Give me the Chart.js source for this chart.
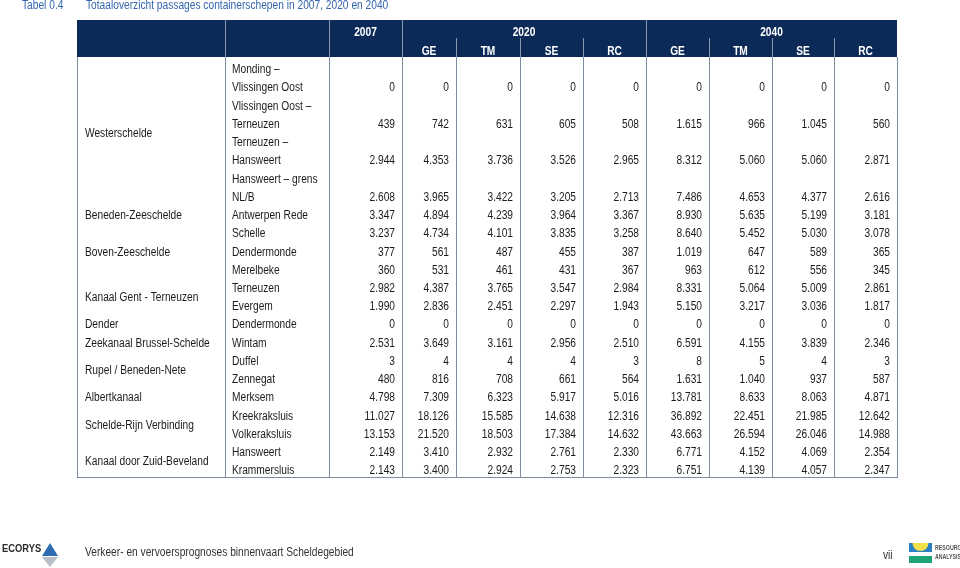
<!DOCTYPE html>
<html>
<head>
<meta charset="utf-8">
<script src="https://cdn.jsdelivr.net/npm/chart.js@4.4.1/dist/chart.umd.min.js"></script>
<style>
    html, body { margin: 0; padding: 0; background: #fff; }
    #wrap { width: 960px; height: 568px; position: relative; }
</style>
</head>
<body>
<div id="wrap"><canvas id="canvas" width="960" height="568"></canvas></div>
<script>
'use strict';

// header texts
var tableNo = 'Tabel 0.4';
var tableTitle = 'Totaaloverzicht passages containerschepen in 2007, 2020 en 2040';
var years = ['2007', '2020', '2040'];
var yearFirstCol = [0, 1, 5];
var yearLastCol = [0, 4, 8];
var columns = ['', 'GE', 'TM', 'SE', 'RC', 'GE', 'TM', 'SE', 'RC'];

// text lines of the location column (one entry per printed line)
var textLines = ['Monding –', 'Vlissingen Oost', 'Vlissingen Oost –', 'Terneuzen', 'Terneuzen –',
    'Hansweert', 'Hansweert – grens', 'NL/B', 'Antwerpen Rede', 'Schelle', 'Dendermonde',
    'Merelbeke', 'Terneuzen', 'Evergem', 'Dendermonde', 'Wintam', 'Duffel', 'Zennegat',
    'Merksem', 'Kreekraksluis', 'Volkeraksluis', 'Hansweert', 'Krammersluis'];
// line on which each value row is printed
var valueLines = [1, 3, 5, 7, 8, 9, 10, 11, 12, 13, 14, 15, 16, 17, 18, 19, 20, 21, 22];

var waterways = ['Westerschelde', 'Beneden-Zeeschelde', 'Boven-Zeeschelde', 'Kanaal Gent - Terneuzen',
    'Dender', 'Zeekanaal Brussel-Schelde', 'Rupel / Beneden-Nete', 'Albertkanaal',
    'Schelde-Rijn Verbinding', 'Kanaal door Zuid-Beveland'];
var waterwayLines = [3.5, 8, 10, 12.5, 14, 15, 16.5, 18, 19.5, 21.5];

// series values
var v2007   = [0, 439, 2944, 2608, 3347, 3237, 377, 360, 2982, 1990, 0, 2531, 3, 480, 4798, 11027, 13153, 2149, 2143];
var ge2020  = [0, 742, 4353, 3965, 4894, 4734, 561, 531, 4387, 2836, 0, 3649, 4, 816, 7309, 18126, 21520, 3410, 3400];
var tm2020  = [0, 631, 3736, 3422, 4239, 4101, 487, 461, 3765, 2451, 0, 3161, 4, 708, 6323, 15585, 18503, 2932, 2924];
var se2020  = [0, 605, 3526, 3205, 3964, 3835, 455, 431, 3547, 2297, 0, 2956, 4, 661, 5917, 14638, 17384, 2761, 2753];
var rc2020  = [0, 508, 2965, 2713, 3367, 3258, 387, 367, 2984, 1943, 0, 2510, 3, 564, 5016, 12316, 14632, 2330, 2323];
var ge2040  = [0, 1615, 8312, 7486, 8930, 8640, 1019, 963, 8331, 5150, 0, 6591, 8, 1631, 13781, 36892, 43663, 6771, 6751];
var tm2040  = [0, 966, 5060, 4653, 5635, 5452, 647, 612, 5064, 3217, 0, 4155, 5, 1040, 8633, 22451, 26594, 4152, 4139];
var se2040  = [0, 1045, 5060, 4377, 5199, 5030, 589, 556, 5009, 3036, 0, 3839, 4, 937, 8063, 21985, 26046, 4069, 4057];
var rc2040  = [0, 560, 2871, 2616, 3181, 3078, 365, 345, 2861, 1817, 0, 2346, 3, 587, 4871, 12642, 14988, 2354, 2347];
var series = [v2007, ge2020, tm2020, se2020, rc2020, ge2040, tm2040, se2040, rc2040];

var footerText = 'Verkeer- en vervoersprognoses binnenvaart Scheldegebied';
var pageNo = 'vii';

// layout
var EDGES = [0, 148, 252, 325, 379, 443, 506, 569, 632, 695, 757, 820];
var HEAD_TOP = 20;
var NAVY = '#0b2a58';
var LINE = '#7f8da4';
var FONT = '"Liberation Sans", Arial, sans-serif';
var SX = 0.85;
var PAD = 7;

function fmt(v) {
    return String(v).replace(/\B(?=(\d{3})+(?!\d))/g, '.');
}

function txt(ctx, s, x, y, align) {
    ctx.save();
    ctx.translate(x, y);
    ctx.scale(SX, 1);
    ctx.textAlign = align || 'left';
    ctx.textBaseline = 'middle';
    ctx.fillText(s, 0, 0);
    ctx.restore();
}

function vline(ctx, x, y1, y2) {
    x = Math.round(x) + 0.5;
    ctx.beginPath();
    ctx.moveTo(x, y1);
    ctx.lineTo(x, y2);
    ctx.stroke();
}

var datasets = series.map(function (vals, ci) {
    return {
        label: (ci === 0 ? years[0] : (ci < 5 ? years[1] : years[2])) + ' ' + columns[ci],
        data: vals.map(function (v, ri) { return { x: EDGES[3 + ci], y: valueLines[ri], v: v }; }),
        pointRadius: 0,
        pointHoverRadius: 0
    };
});

var tablePlugin = {
    id: 'tablePlugin',
    beforeDraw: function (chart) {
        var ctx = chart.ctx, xs = chart.scales.x, area = chart.chartArea;
        ctx.save();
        ctx.fillStyle = '#fff';
        ctx.fillRect(0, 0, chart.width, chart.height);

        // title
        ctx.fillStyle = '#3466ad';
        ctx.font = '12px ' + FONT;
        txt(ctx, tableNo, 22, 6);
        txt(ctx, tableTitle, 86, 6);

        // header block
        ctx.fillStyle = NAVY;
        ctx.fillRect(area.left, HEAD_TOP, area.right - area.left, area.top - HEAD_TOP);

        ctx.strokeStyle = '#8797b0';
        ctx.lineWidth = 1;
        [1, 2, 3, 7].forEach(function (e) { vline(ctx, xs.getPixelForValue(EDGES[e]), HEAD_TOP, area.top); });
        [4, 5, 6, 8, 9, 10].forEach(function (e) { vline(ctx, xs.getPixelForValue(EDGES[e]), 38, area.top); });

        ctx.fillStyle = '#fff';
        ctx.font = 'bold 12px ' + FONT;
        years.forEach(function (y, i) {
            var l = xs.getPixelForValue(EDGES[2 + yearFirstCol[i]]);
            var r = xs.getPixelForValue(EDGES[3 + yearLastCol[i]]);
            txt(ctx, y, (l + r) / 2, 33, 'center');
        });
        columns.forEach(function (c, ci) {
            if (!c) return;
            var l = xs.getPixelForValue(EDGES[2 + ci]);
            var r = xs.getPixelForValue(EDGES[3 + ci]);
            txt(ctx, c, (l + r) / 2, 52, 'center');
        });

        // footer
        ctx.fillStyle = '#2b2b2b';
        ctx.font = 'bold 11px ' + FONT;
        txt(ctx, 'ECORYS', 2, 549);
        ctx.fillStyle = '#2f6db3';
        ctx.beginPath();
        ctx.moveTo(42, 556); ctx.lineTo(50, 543); ctx.lineTo(58, 556); ctx.closePath(); ctx.fill();
        ctx.fillStyle = '#b9c0c9';
        ctx.beginPath();
        ctx.moveTo(42, 557); ctx.lineTo(58, 557); ctx.lineTo(50, 567); ctx.closePath(); ctx.fill();

        ctx.fillStyle = '#333';
        ctx.font = '12px ' + FONT;
        txt(ctx, footerText, 85, 553);
        txt(ctx, pageNo, 883, 556);

        ctx.fillStyle = '#2a80c4';
        ctx.fillRect(909, 543, 23, 9);
        ctx.fillStyle = '#f3e04a';
        ctx.beginPath();
        ctx.arc(920.5, 543, 8, 0, Math.PI);
        ctx.fill();
        ctx.fillStyle = '#1ea27a';
        ctx.fillRect(909, 556, 23, 7);
        ctx.fillStyle = '#555';
        ctx.font = 'bold 7px ' + FONT;
        ctx.save();
        ctx.translate(935, 0);
        ctx.scale(0.75, 1);
        ctx.textBaseline = 'middle';
        ctx.fillText('RESOURCE', 0, 548);
        ctx.fillText('ANALYSIS', 0, 557);
        ctx.restore();
        ctx.restore();
    },
    afterDatasetsDraw: function (chart) {
        var ctx = chart.ctx, xs = chart.scales.x, ys = chart.scales.y, area = chart.chartArea;
        ctx.save();

        // grid
        ctx.strokeStyle = LINE;
        ctx.lineWidth = 1;
        EDGES.forEach(function (e) { vline(ctx, xs.getPixelForValue(e), area.top, area.bottom); });
        ctx.beginPath();
        ctx.moveTo(area.left, Math.round(area.bottom) + 0.5);
        ctx.lineTo(area.right + 1, Math.round(area.bottom) + 0.5);
        ctx.stroke();

        ctx.fillStyle = '#1b1b1b';
        ctx.font = '12px ' + FONT;

        waterways.forEach(function (w, i) {
            txt(ctx, w, xs.getPixelForValue(EDGES[0]) + 8, ys.getPixelForValue(waterwayLines[i]));
        });
        textLines.forEach(function (t, i) {
            txt(ctx, t, xs.getPixelForValue(EDGES[1]) + 7, ys.getPixelForValue(i));
        });

        chart.data.datasets.forEach(function (ds, di) {
            var meta = chart.getDatasetMeta(di);
            meta.data.forEach(function (el, i) {
                txt(ctx, fmt(ds.data[i].v), el.x - PAD, el.y, 'right');
            });
        });
        ctx.restore();
    }
};

var ctx = document.getElementById('canvas').getContext('2d');
var myTable = new Chart(ctx, {
    type: 'scatter',
    data: { datasets: datasets },
    options: {
        responsive: false,
        maintainAspectRatio: false,
        animation: false,
        events: [],
        layout: { padding: { left: 77, right: 63, top: 57, bottom: 91 } },
        scales: {
            x: { type: 'linear', min: EDGES[0], max: EDGES[EDGES.length - 1], display: false },
            y: { type: 'linear', min: -0.71, max: 22.33, reverse: true, display: false }
        },
        plugins: {
            legend: { display: false },
            tooltip: { enabled: false },
            title: { display: false }
        }
    },
    plugins: [tablePlugin]
});
</script>
</body>
</html>
